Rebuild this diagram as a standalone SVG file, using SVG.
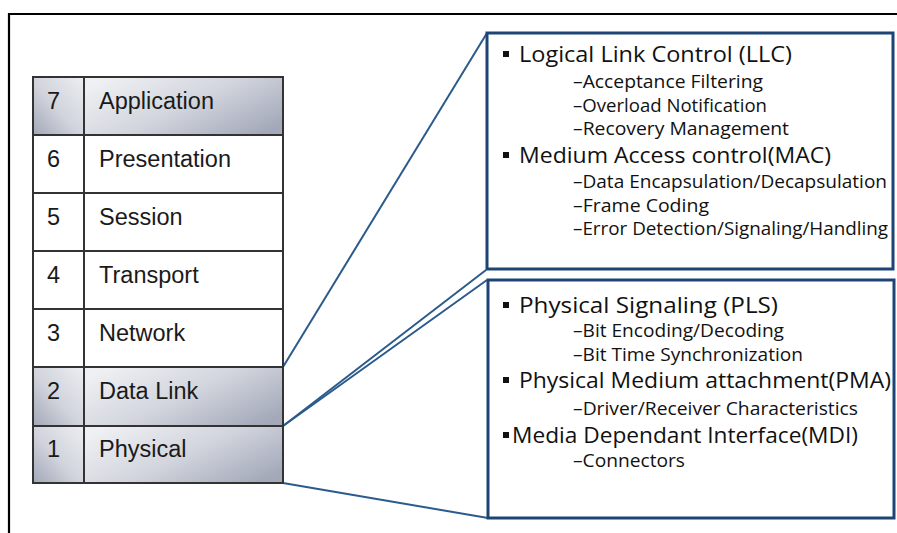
<svg xmlns="http://www.w3.org/2000/svg" width="897" height="533" viewBox="0 0 897 533">
  <defs>
    <linearGradient id="cellShade" x1="0" y1="0.2" x2="1" y2="0.8">
      <stop offset="0" stop-color="#eef0f3"/>
      <stop offset="0.5" stop-color="#d2d5dd"/>
      <stop offset="1" stop-color="#a4a9ba"/>
    </linearGradient>
    <linearGradient id="numShade" x1="1" y1="0" x2="0" y2="1">
      <stop offset="0" stop-color="#eceef2"/>
      <stop offset="0.55" stop-color="#d0d3db"/>
      <stop offset="1" stop-color="#a2a7b8"/>
    </linearGradient>
    <style>
      .frame { stroke: #000; stroke-width: 2.2; fill: none; }
      .cell { stroke: #333; stroke-width: 2; }
      .plain { fill: #fff; }
      .shadeLabel { fill: url(#cellShade); }
      .shadeNum { fill: url(#numShade); }
      .layer { font-family: "Liberation Sans", Arial, sans-serif; font-size: 23.5px; fill: #1a1a1a; }
      .panel { fill: #fff; stroke: #1d4475; stroke-width: 3; }
      .link { stroke: #2b5b8c; stroke-width: 2; fill: none; }
      .head { font-family: "Open Sans", "Noto Sans", sans-serif; font-size: 22.5px; fill: #111; }
      .sub { font-family: "Open Sans", "Noto Sans", sans-serif; font-size: 18px; fill: #111; }
      .bullet { fill: #111; }
    </style>
  </defs>

  <rect width="897" height="533" fill="#fff"/>

  <!-- page frame -->
  <path class="frame" d="M9 533 V14 H897"/>

  <!-- connectors from layers 2 and 1 to the detail panels -->
  <g id="connectors">
    <line class="link" x1="283" y1="367" x2="487" y2="33"/>
    <line class="link" x1="283" y1="426" x2="486" y2="270"/>
    <line class="link" x1="283" y1="426" x2="487" y2="280"/>
    <line class="link" x1="283" y1="483" x2="488" y2="518"/>
  </g>

  <!-- OSI layer stack -->
  <g id="layer7">
    <rect class="cell shadeNum" x="33" y="77" width="51" height="58"/>
    <rect class="cell shadeLabel" x="84" y="77" width="199" height="58"/>
    <text class="layer" x="47" y="108.5">7</text>
    <text class="layer" x="99" y="108.5">Application</text>
  </g>
  <g id="layer6">
    <rect class="cell plain" x="33" y="135" width="51" height="58"/>
    <rect class="cell plain" x="84" y="135" width="199" height="58"/>
    <text class="layer" x="47" y="166.5">6</text>
    <text class="layer" x="99" y="166.5">Presentation</text>
  </g>
  <g id="layer5">
    <rect class="cell plain" x="33" y="193" width="51" height="58"/>
    <rect class="cell plain" x="84" y="193" width="199" height="58"/>
    <text class="layer" x="47" y="224.5">5</text>
    <text class="layer" x="99" y="224.5">Session</text>
  </g>
  <g id="layer4">
    <rect class="cell plain" x="33" y="251" width="51" height="58"/>
    <rect class="cell plain" x="84" y="251" width="199" height="58"/>
    <text class="layer" x="47" y="282.5">4</text>
    <text class="layer" x="99" y="282.5">Transport</text>
  </g>
  <g id="layer3">
    <rect class="cell plain" x="33" y="309" width="51" height="58"/>
    <rect class="cell plain" x="84" y="309" width="199" height="58"/>
    <text class="layer" x="47" y="340.5">3</text>
    <text class="layer" x="99" y="340.5">Network</text>
  </g>
  <g id="layer2">
    <rect class="cell shadeNum" x="33" y="367" width="51" height="59"/>
    <rect class="cell shadeLabel" x="84" y="367" width="199" height="59"/>
    <text class="layer" x="47" y="398.5">2</text>
    <text class="layer" x="99" y="398.5">Data Link</text>
  </g>
  <g id="layer1">
    <rect class="cell shadeNum" x="33" y="426" width="51" height="57"/>
    <rect class="cell shadeLabel" x="84" y="426" width="199" height="57"/>
    <text class="layer" x="47" y="457">1</text>
    <text class="layer" x="99" y="457">Physical</text>
  </g>

  <!-- Data Link sublayers -->
  <g id="datalink-panel">
    <rect class="panel" x="487" y="33" width="406" height="236"/>
    <rect class="bullet" x="503" y="51" width="6" height="6"/>
    <text class="head" x="519" y="62" textLength="273" lengthAdjust="spacingAndGlyphs">Logical Link Control (LLC)</text>
    <text class="sub" x="573" y="88" textLength="190" lengthAdjust="spacingAndGlyphs">–Acceptance Filtering</text>
    <text class="sub" x="573" y="112" textLength="194" lengthAdjust="spacingAndGlyphs">–Overload Notification</text>
    <text class="sub" x="573" y="135" textLength="216" lengthAdjust="spacingAndGlyphs">–Recovery Management</text>
    <rect class="bullet" x="503" y="152" width="6" height="6"/>
    <text class="head" x="519" y="163" textLength="312" lengthAdjust="spacingAndGlyphs">Medium Access control(MAC)</text>
    <text class="sub" x="573" y="188" textLength="314" lengthAdjust="spacingAndGlyphs">–Data Encapsulation/Decapsulation</text>
    <text class="sub" x="573" y="212" textLength="136" lengthAdjust="spacingAndGlyphs">–Frame Coding</text>
    <text class="sub" x="573" y="235" textLength="315" lengthAdjust="spacingAndGlyphs">–Error Detection/Signaling/Handling</text>
  </g>

  <!-- Physical sublayers -->
  <g id="physical-panel">
    <rect class="panel" x="488" y="280" width="406" height="238"/>
    <rect class="bullet" x="503" y="302" width="6" height="6"/>
    <text class="head" x="519" y="313" textLength="259" lengthAdjust="spacingAndGlyphs">Physical Signaling (PLS)</text>
    <text class="sub" x="573" y="337" textLength="211" lengthAdjust="spacingAndGlyphs">–Bit Encoding/Decoding</text>
    <text class="sub" x="573" y="361" textLength="230" lengthAdjust="spacingAndGlyphs">–Bit Time Synchronization</text>
    <rect class="bullet" x="503" y="377" width="6" height="6"/>
    <text class="head" x="519" y="388" textLength="372" lengthAdjust="spacingAndGlyphs">Physical Medium attachment(PMA)</text>
    <text class="sub" x="573" y="415" textLength="285" lengthAdjust="spacingAndGlyphs">–Driver/Receiver Characteristics</text>
    <rect class="bullet" x="503" y="432" width="6" height="6"/>
    <text class="head" x="512" y="443" textLength="346" lengthAdjust="spacingAndGlyphs">Media Dependant Interface(MDI)</text>
    <text class="sub" x="573" y="467" textLength="112" lengthAdjust="spacingAndGlyphs">–Connectors</text>
  </g>
</svg>
